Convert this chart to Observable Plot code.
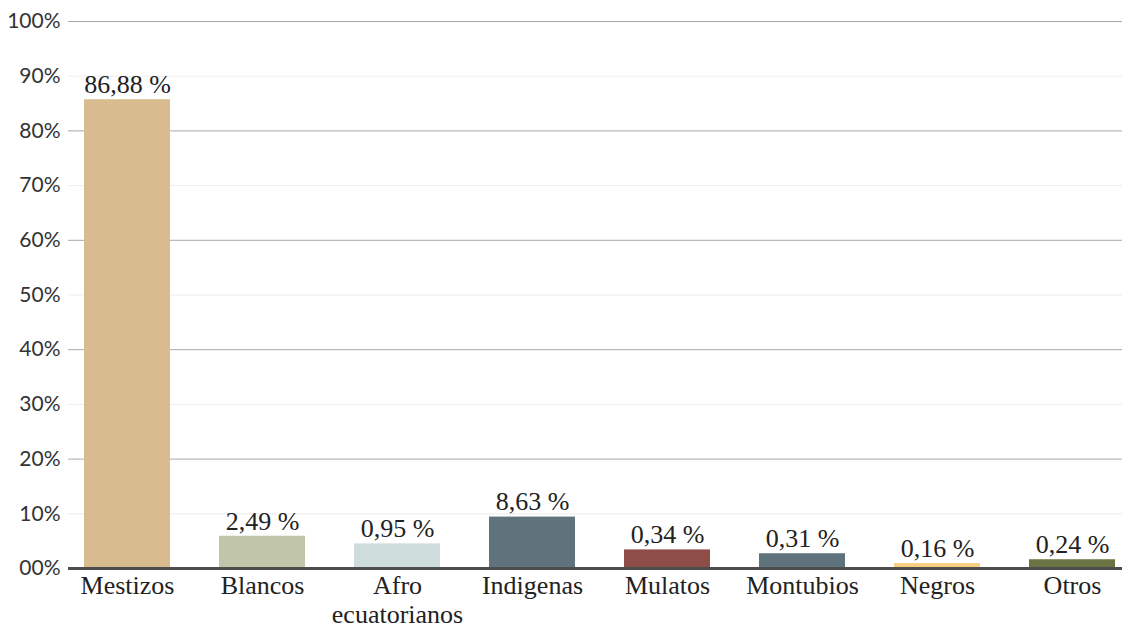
<!DOCTYPE html>
<html>
<head>
<meta charset="utf-8">
<script src="https://cdn.jsdelivr.net/npm/d3@7"></script>
<script src="https://cdn.jsdelivr.net/npm/@observablehq/plot@0.6"></script>
<style>
  html, body { margin: 0; padding: 0; background: #fff; }
  #chart svg { display: block; }
</style>
</head>
<body>
<div id="chart"></div>
<script>
const categories = ["Mestizos", "Blancos", "Afro\necuatorianos", "Indigenas", "Mulatos", "Montubios", "Negros", "Otros"];
const barValues = [85.7, 5.9, 4.5, 9.4, 3.4, 2.7, 0.9, 1.6];
const valueLabels = ["86,88 %", "2,49 %", "0,95 %", "8,63 %", "0,34 %", "0,31 %", "0,16 %", "0,24 %"];
const barColors = ["#D8BB8F", "#C2C6A8", "#CFDCDC", "#5E737C", "#8F4D47", "#5E737C", "#F8CF80", "#6A7443"];
const yTicks = [0, 10, 20, 30, 40, 50, 60, 70, 80, 90, 100];
const yTickLabels = ["00%", "10%", "20%", "30%", "40%", "50%", "60%", "70%", "80%", "90%", "100%"];
const majorGrid = [20, 40, 60, 80, 100];
const minorGrid = [10, 30, 50, 70, 90];

const data = categories.map((c, i) => ({cat: c, value: barValues[i], label: valueLabels[i]}));

const chart = Plot.plot({
  width: 1122,
  height: 628,
  marginTop: 21,
  marginBottom: 60,
  marginLeft: 68,
  marginRight: 0,
  style: {background: "#fff"},
  x: {domain: categories, range: [66, 1133], paddingInner: 0.365, paddingOuter: 0.1256, label: null},
  y: {domain: [0, 100], label: null},
  color: {domain: categories, range: barColors},
  marks: [
    Plot.ruleY(minorGrid, {stroke: "#ececec", strokeWidth: 1}),
    Plot.ruleY(majorGrid, {stroke: "#a8a8a8", strokeWidth: 1}),
    Plot.barY(data, {x: "cat", y: "value", fill: "cat"}),
    Plot.ruleY([0], {stroke: "#4d4d4d", strokeWidth: 3}),
    Plot.text(data, {x: "cat", y: "value", text: "label", dy: -15, fontSize: 26, fontFamily: "Liberation Serif", fill: "#222"}),
    Plot.axisY({ticks: yTicks, tickFormat: (d) => yTickLabels[yTicks.indexOf(d)], tickSize: 0, tickPadding: 8, fontSize: 21, fontFamily: "Lato", fill: "#333", label: null}),
    Plot.axisX({tickSize: 0, tickPadding: 6, fontSize: 26, fontFamily: "Liberation Serif", fill: "#222", lineHeight: 1.08, label: null})
  ]
});
document.getElementById("chart").append(chart);
</script>
</body>
</html>
